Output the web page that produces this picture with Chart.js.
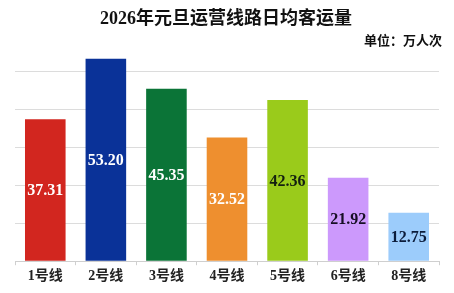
<!DOCTYPE html>
<html><head><meta charset="utf-8">
<script src="https://cdn.jsdelivr.net/npm/chart.js@4/dist/chart.umd.min.js"></script>
<style>html,body{margin:0;padding:0;background:#fff;}#wrap{width:454px;height:293px;}</style>
</head><body><div id="wrap"><canvas id="c" width="454" height="293"></canvas></div>
<script>
const categories = ["1号线","2号线","3号线","4号线","5号线","6号线","8号线"];
const values = [37.31, 53.20, 45.35, 32.52, 42.36, 21.92, 12.75];
const barColors = ["#d2261f","#0a3298","#0b7437","#ee8f2f","#9acb1b","#cc99fc","#9cccfb"];
const labelColors = ["#ffffff","#ffffff","#ffffff","#ffffff","#142010","#160e24","#0c1c3a"];
const titleText = "2026年元旦运营线路日均客运量";
const unitText = "单位：万人次";

const SERIF = '"Liberation Serif","Noto Sans CJK SC",serif';

const textPlugin = {
  id: 'texts',
  afterDraw(chart) {
    const ctx = chart.ctx;
    ctx.save();
    ctx.fillStyle = '#111';
    ctx.font = 'bold 18px ' + SERIF;
    ctx.textAlign = 'center';
    ctx.textBaseline = 'middle';
    ctx.fillText(titleText, 226, 19);
    ctx.font = 'bold 13px ' + SERIF;
    ctx.textAlign = 'right';
    ctx.fillText(unitText, 442, 42);
    const meta = chart.getDatasetMeta(0);
    ctx.font = 'bold 16px ' + SERIF;
    ctx.textAlign = 'center';
    meta.data.forEach((bar, i) => {
      ctx.fillStyle = labelColors[i];
      ctx.fillText(values[i].toFixed(2), bar.x, (bar.y + bar.base) / 2 + 1);
    });
    ctx.restore();
  }
};

new Chart(document.getElementById('c'), {
  type: 'bar',
  data: {
    labels: categories,
    datasets: [{
      data: values,
      backgroundColor: barColors,
      borderWidth: 0,
      categoryPercentage: 1,
      barPercentage: 0.67
    }]
  },
  options: {
    responsive: false,
    animation: false,
    devicePixelRatio: 1,
    layout: { padding: { left: 15, right: 15, top: 52, bottom: 5 } },
    plugins: { legend: { display: false }, tooltip: { enabled: false }, title: { display: false } },
    scales: {
      x: {
        grid: { display: true, drawOnChartArea: false, drawTicks: true, tickLength: 4, color: '#cfcfcf', offset: true },
        border: { display: true, color: '#cfcfcf', width: 1 },
        ticks: { color: '#222', font: { family: SERIF, size: 14, weight: 'bold' }, padding: 3 }
      },
      y: {
        min: 0, max: 55,
        ticks: { display: false, stepSize: 10 },
        border: { display: false },
        grid: {
          drawTicks: false,
          color: (c) => (c.tick && c.tick.value > 0 && c.tick.value <= 50) ? '#dcdcdc' : 'rgba(0,0,0,0)'
        }
      }
    }
  },
  plugins: [textPlugin]
});
</script></body></html>
